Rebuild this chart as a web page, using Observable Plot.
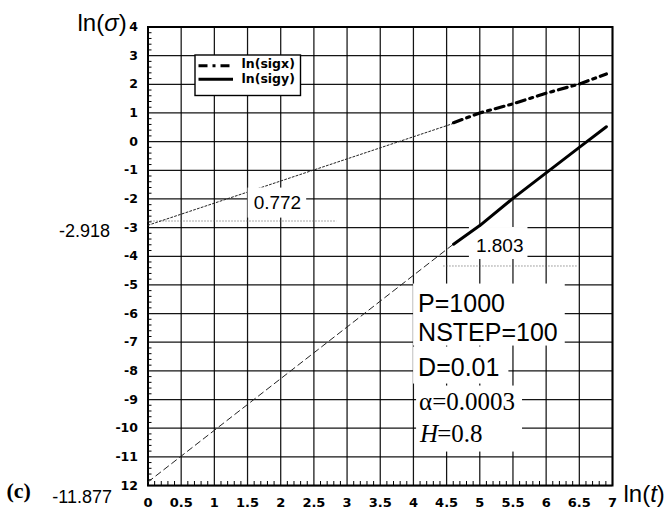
<!DOCTYPE html>
<html>
<head>
<meta charset="utf-8">
<script src="https://cdn.jsdelivr.net/npm/d3@7"></script>
<script src="https://cdn.jsdelivr.net/npm/@observablehq/plot@0.6"></script>
<style>
  html, body { margin: 0; padding: 0; background: #fff; }
  #chart { width: 672px; height: 509px; }
</style>
</head>
<body>
<div id="chart"></div>
<script>
// ln(t) sample times and measured ln(sigma) for the two directions
const lnT = [4.605, 5.0, 5.5, 6.0, 6.5, 6.908];
const lnSigx = [0.66, 1.0, 1.32, 1.69, 2.01, 2.36];
const lnSigy = [-3.58, -2.93, -1.98, -1.09, -0.2, 0.52];
const seriesNames = ["ln(sigx)", "ln(sigy)"];

// straight-line fits: ln(sigma) = intercept + slope * ln(t)
const fitIntercepts = [-2.918, -11.877];
const fitSlopes = [0.772, 1.803];

// horizontal guide segments used when measuring the slopes
const guideY = [-2.77, -4.34];
const guideX1 = [0, 4.46];
const guideX2 = [2.85, 6.49];

// run parameters
const paramNames = ["P", "NSTEP", "D", "α", "H"];
const paramValues = ["1000", "100", "0.01", "0.0003", "0.8"];

// axis ticks and their printed labels
const xTicks = [0, 0.5, 1, 1.5, 2, 2.5, 3, 3.5, 4, 4.5, 5, 5.5, 6, 6.5, 7];
const xTickLabels = ["0", "0.5", "1", "1.5", "2", "2.5", "3", "3.5", "4", "4.5", "5", "5.5", "6", "6.5", "7"];
const yTicks = [4, 3, 2, 1, 0, -1, -2, -3, -4, -5, -6, -7, -8, -9, -10, -11, -12];
const yTickLabels = ["4", "3", "2", "1", "0", "-1", "-2", "-3", "-4", "-5", "-6", "-7", "-8", "-9", "-10", "-11", "12"];

// ---- layout ----
const W = 672, H = 509;
const ML = 147.5, MR = 60, MT = 26.5, MB = 24;
const SANS = "'Liberation Sans', Arial, Helvetica, sans-serif";
const SERIF = "'Liberation Serif', 'Times New Roman', serif";
const TICKFONT = "'DejaVu Sans', Verdana, sans-serif";
const DASHDOT = "9,5,3,5";

const sigxData = lnT.map((t, i) => ({t, v: lnSigx[i]}));
const sigyData = lnT.map((t, i) => ({t, v: lnSigy[i]}));
const fits = seriesNames.map((name, i) => ({name, intercept: fitIntercepts[i], slope: fitSlopes[i]}));
// each fit is drawn from ln(t)=0 up to the first measured time
const fitLine = f => [0, lnT[0]].map(t => ({t, v: f.intercept + f.slope * t}));
const guides = guideY.map((y, i) => ({y, x1: guideX1[i], x2: guideX2[i]}));
const params = paramNames.map((k, i) => `${k}=${paramValues[i]}`);

// minor tick positions: every 0.2 on y, every 0.1 on x
const yMinor = d3.range(-60, 20).filter(k => k % 5 !== 0).map(k => k / 5);
const xMinor = d3.range(1, 70).filter(k => k % 5 !== 0).map(k => k / 10);

const infoX = 4.07, infoY = -5.93;
const infoText = (label, dy, extra) => Plot.text([label], {
  x: infoX, y: infoY, text: d => d, dy, textAnchor: "start", lineAnchor: "bottom",
  fontSize: 25, fontFamily: SANS, fill: "#000", ...extra
});

const plot = Plot.plot({
  width: W, height: H,
  marginLeft: ML, marginRight: MR, marginTop: MT, marginBottom: MB,
  x: {domain: [0, 7]},
  y: {domain: [-12, 4]},
  style: {background: "#fff", fontFamily: SANS, color: "#000", overflow: "visible"},
  marks: [
    Plot.gridX(xTicks, {stroke: "#000", strokeOpacity: 0.92, strokeWidth: 1.25}),
    Plot.gridY(yTicks, {stroke: "#000", strokeOpacity: 0.92, strokeWidth: 1.25}),
    Plot.ruleY(yMinor, {y: d => d, x1: 0, x2: 0, insetRight: -4, stroke: "#000", strokeWidth: 1}),
    Plot.ruleX(xMinor, {x: d => d, y1: -12, y2: -12, insetBottom: 4, stroke: "#000", strokeWidth: 1}),
    Plot.frame({stroke: "#000", strokeWidth: 2}),

    Plot.ruleY(guides, {y: "y", x1: "x1", x2: "x2", stroke: "#555", strokeWidth: 1, strokeDasharray: "1,2"}),
    Plot.line(fitLine(fits[0]), {x: "t", y: "v", stroke: "#222", strokeWidth: 1, strokeDasharray: "2,2"}),
    Plot.line(fitLine(fits[1]), {x: "t", y: "v", stroke: "#222", strokeWidth: 1, strokeDasharray: "6,4"}),

    // slope labels
    Plot.text([fits[0]], {x: 1.95, y: -2.125, text: d => d.slope.toFixed(3), fontSize: 19, fontFamily: SANS, ariaDescription: "boxed-s1"}),
    Plot.text([fits[1]], {x: 5.3, y: -3.64, text: d => d.slope.toFixed(3), fontSize: 19, fontFamily: SANS, ariaDescription: "boxed-s2"}),

    // measured series
    Plot.line(sigxData, {x: "t", y: "v", stroke: "#000", strokeWidth: 3.2, strokeDasharray: DASHDOT}),
    Plot.line(sigyData, {x: "t", y: "v", stroke: "#000", strokeWidth: 3}),

    // intercept labels, left of the y axis
    Plot.text([fits[0]], {x: 0, y: "intercept", text: d => d.intercept.toFixed(3), textAnchor: "end", dx: -38, dy: 6, fontSize: 18, fontFamily: SANS}),
    Plot.text([fits[1]], {x: 0, y: "intercept", text: d => d.intercept.toFixed(3), textAnchor: "end", dx: -36, dy: 15, fontSize: 18, fontFamily: SANS}),

    // parameter block
    infoText(params[0], 0, {ariaDescription: "boxed-pn"}),
    infoText(params[1], 29, {ariaDescription: "boxed-pn"}),
    infoText(params[2], 64, {ariaDescription: "boxed-d"}),
    infoText(params[3], 98, {ariaDescription: "boxed-ah", fontFamily: SERIF, dx: 1}),
    infoText(params[4], 130, {ariaDescription: "boxed-ah", fontFamily: SERIF, dx: 2}),

    // axes
    Plot.axisY(yTicks, {tickSize: 0, tickPadding: 10, tickFormat: d => yTickLabels[yTicks.indexOf(d)],
      fontFamily: TICKFONT, fontWeight: "bold", fontSize: 12.5}),
    Plot.axisX(xTicks, {tickSize: 0, tickPadding: 12, tickFormat: d => xTickLabels[xTicks.indexOf(d)],
      fontFamily: TICKFONT, fontWeight: "bold", fontSize: 13}),

    // axis titles and panel tag
    Plot.text(["ln(σ)"], {frameAnchor: "top-left", text: d => d, dx: -70.5, dy: 3.5, textAnchor: "start", lineAnchor: "bottom", fontSize: 24, fontFamily: SANS, ariaDescription: "title-y"}),
    Plot.text(["ln(t)"], {frameAnchor: "bottom-right", text: d => d, dx: 11, dy: 16, textAnchor: "start", lineAnchor: "bottom", fontSize: 24, fontFamily: SANS, ariaDescription: "title-x"}),
    Plot.text(["(c)"], {frameAnchor: "bottom-left", text: d => d, dx: -141.5, dy: 12, textAnchor: "start", lineAnchor: "bottom", fontSize: 22, fontWeight: "bold", fontFamily: SERIF})
  ]
});

document.getElementById("chart").append(plot);

const svgNode = plot.tagName.toLowerCase() === "svg" ? plot : plot.querySelector("svg");
const NS = "http://www.w3.org/2000/svg";
const marksBy = key => svgNode.querySelectorAll(`g[aria-description="${key}"]`);

// set one part of a text element in italics
function italicize(textEl, part, afterDx) {
  const s = textEl.textContent;
  const i = s.indexOf(part);
  if (i < 0) return;
  textEl.textContent = "";
  [s.slice(0, i), part, s.slice(i + part.length)].forEach((p, k) => {
    if (!p) return;
    const ts = document.createElementNS(NS, "tspan");
    ts.textContent = p;
    if (k === 1) ts.setAttribute("font-style", "italic");
    if (k === 2 && afterDx) ts.setAttribute("dx", afterDx);
    textEl.appendChild(ts);
  });
}
marksBy("title-y").forEach(g => g.querySelectorAll("text").forEach(t => italicize(t, "σ")));
marksBy("title-x").forEach(g => g.querySelectorAll("text").forEach(t => italicize(t, "t")));
marksBy("boxed-ah").forEach(g => g.querySelectorAll("text").forEach(t => {
  if (t.textContent.startsWith("H=")) italicize(t, "H", -1);
}));

// white boxes behind annotation text so the grid does not run through it
function boxBehind(key, pad) {
  const groups = marksBy(key);
  if (!groups.length) return;
  const base = svgNode.getBoundingClientRect();
  let x0 = Infinity, y0 = Infinity, x1 = -Infinity, y1 = -Infinity;
  groups.forEach(g => g.querySelectorAll("text").forEach(t => {
    const r = t.getBoundingClientRect();
    x0 = Math.min(x0, r.left - base.left); x1 = Math.max(x1, r.right - base.left);
    y0 = Math.min(y0, r.top - base.top); y1 = Math.max(y1, r.bottom - base.top);
  }));
  const rect = document.createElementNS(NS, "rect");
  rect.setAttribute("x", x0 - pad.l);
  rect.setAttribute("y", y0 - pad.t);
  rect.setAttribute("width", x1 - x0 + pad.l + pad.r);
  rect.setAttribute("height", y1 - y0 + pad.t + pad.b);
  rect.setAttribute("fill", "#fff");
  groups[0].parentNode.insertBefore(rect, groups[0]);
}
boxBehind("boxed-s1", {l: 6, r: 5, t: 4, b: 5});
boxBehind("boxed-s2", {l: 7, r: 4, t: 8, b: 3});
boxBehind("boxed-pn", {l: 5, r: 7, t: 5, b: 0});
boxBehind("boxed-d", {l: 5, r: 9, t: 6, b: 3});
boxBehind("boxed-ah", {l: 3, r: 7, t: 2, b: 5});

// legend box in the upper-left of the frame
const svg = d3.select(svgNode);
const lg = svg.append("g").attr("transform", `translate(${ML + 47.5},${MT + 28.5})`);
lg.append("rect").attr("width", 105.5).attr("height", 40.5)
  .attr("fill", "#fff").attr("stroke", "#000").attr("stroke-width", 1.4);
const legendStyles = [DASHDOT, null];
seriesNames.forEach((name, i) => {
  const yLine = 10.7 + i * 13.5;
  lg.append("line").attr("x1", 3.5).attr("x2", 38).attr("y1", yLine).attr("y2", yLine)
    .attr("stroke", "#000").attr("stroke-width", 3)
    .attr("stroke-dasharray", legendStyles[i]);
  lg.append("text").attr("x", 46.5).attr("y", 12.6 + i * 15)
    .attr("text-anchor", "start")
    .attr("font-family", TICKFONT).attr("font-weight", "bold").attr("font-size", 12.5)
    .attr("fill", "#000").text(name);
});
</script>
</body>
</html>
